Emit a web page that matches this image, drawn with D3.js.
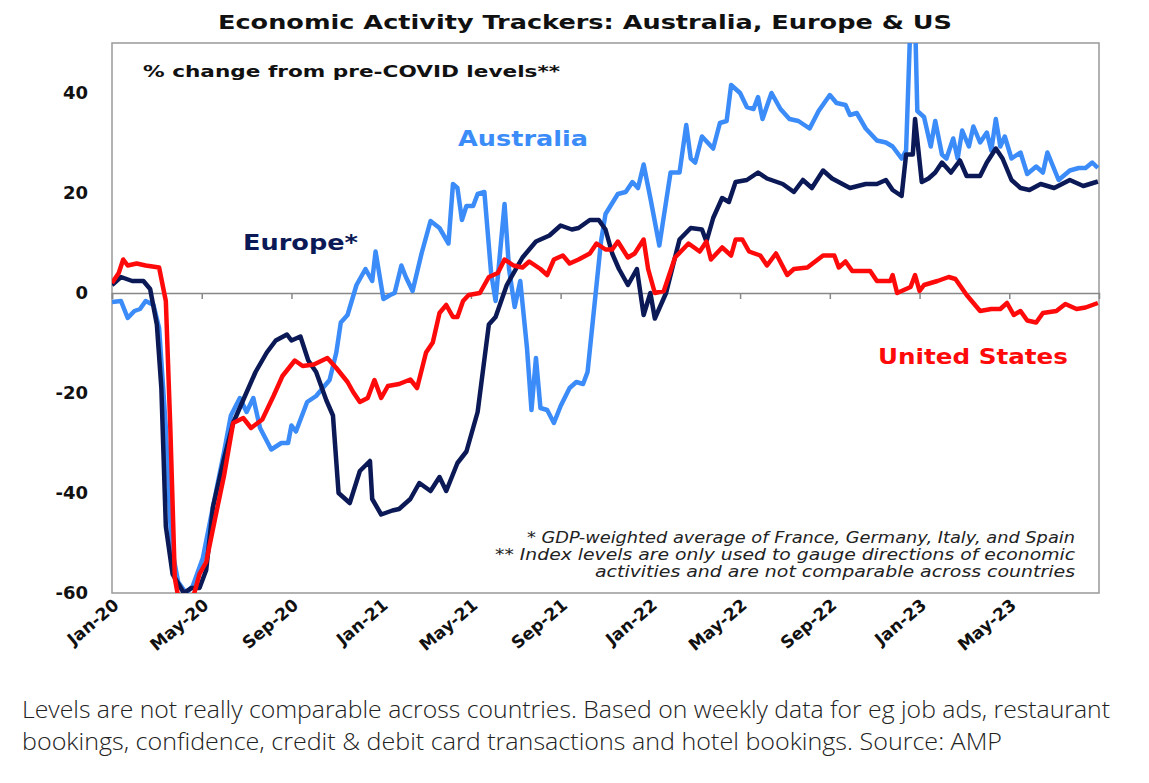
<!DOCTYPE html>
<html><head><meta charset="utf-8">
<script src="https://cdn.jsdelivr.net/npm/d3@7"></script>
<style>body{margin:0;background:#fff}svg{display:block}</style>
</head><body><svg id="c" width="1149" height="783"></svg>
<script>
// month index from Jan-2020 (0) and % change values
const ausM=[0,0.4,0.7,1.0,1.25,1.5,1.85,2.1,2.4,2.65,2.95,3.3,3.6,4.05,4.5,5.0,5.3,5.7,6.0,6.3,6.6,7.1,7.55,7.85,8.0,8.2,8.7,9.1,9.7,10.0,10.2,10.5,10.9,11.3,11.6,11.75,12.1,12.4,12.6,12.9,13.1,13.4,13.8,14.2,14.6,15.0,15.2,15.4,15.6,15.8,16.1,16.3,16.6,16.9,17.1,17.5,17.7,17.95,18.2,18.5,18.7,18.9,19.1,19.4,19.7,20.0,20.4,20.7,21.0,21.2,21.6,21.8,22.0,22.55,22.9,23.2,23.45,23.7,24.0,24.4,24.9,25.3,25.6,25.8,26.0,26.3,26.8,27.1,27.4,27.6,28.0,28.3,28.6,28.8,29.0,29.4,29.8,30.2,30.6,31.1,31.5,32.0,32.3,32.7,32.9,33.2,33.6,34.1,34.5,34.8,35.2,35.4,35.6,35.8,35.9,36.2,36.5,36.7,37.0,37.2,37.5,37.7,37.9,38.2,38.4,38.7,39.0,39.2,39.4,39.6,39.8,40.1,40.5,40.8,41.2,41.5,41.7,42.2,42.7,43.1,43.4,43.7,43.95];
const ausV=[-1.8,-1.6,-5,-3.6,-3.2,-1.6,-2.4,-7,-27,-50.7,-57.8,-60,-58.6,-53,-42.8,-31.7,-24.5,-21,-23.8,-21,-27,-31.3,-30,-30,-26.5,-27.7,-21.8,-20.6,-17.4,-11.9,-5.9,-4.4,1.6,4.8,2.4,8.3,-1.2,-0.4,0,5.5,3.2,0.4,7.9,14.4,13,9.9,21.8,21,14.6,17.4,17.4,19.8,20.2,4,-1.6,17.8,4.8,-2.8,2.4,-11,-23.4,-13,-23,-23.4,-26,-22.6,-19,-17.8,-18.2,-15.8,1.6,10.3,15.8,19.8,20.2,22.2,21,25.7,19,9.5,24.1,24.1,33.6,26.9,26.1,31.3,28.9,34,34.4,41.6,40,37.2,36.8,39.2,34.8,40,36.8,34.8,34.4,32.9,36.4,39.6,38,37.6,35.6,36,32.9,30.5,30.1,29.3,26.9,28.5,55,55,36.4,35.2,29.3,34.4,27.7,26.9,30.9,26.9,32.5,29.3,33.3,30.1,32.1,28.5,34.8,29.3,31.3,26.9,28.1,23.8,25.3,24.1,28.1,22.6,24.5,25,25,26.1,25];
const eurM=[0,0.4,0.9,1.4,1.7,2.0,2.2,2.4,2.7,3.2,3.55,3.9,4.2,4.5,5.0,5.4,5.85,6.4,6.9,7.3,7.8,8.0,8.4,8.75,9.1,9.55,9.85,10.1,10.6,11.05,11.5,11.6,12.0,12.5,12.8,13.3,13.7,14.2,14.6,14.9,15.4,15.8,16.3,16.8,17.1,17.6,18.3,18.9,19.5,20.0,20.5,20.8,21.3,21.7,22.0,22.3,22.6,23.0,23.4,23.7,24.0,24.2,24.7,25.3,25.8,26.3,26.5,26.8,27.2,27.5,27.8,28.3,28.8,29.2,29.9,30.4,30.8,31.2,31.7,32.1,32.9,33.6,34.1,34.5,34.8,35.2,35.4,35.7,35.8,36.1,36.4,36.7,37.0,37.4,37.8,38.1,38.7,39.0,39.4,39.7,40.1,40.5,40.9,41.4,42.0,42.7,43.3,43.95];
const eurV=[1.6,3.2,2.4,2.4,0.8,-6.3,-19,-46.7,-56.2,-60,-59,-59,-55.4,-42.8,-33,-26,-21.4,-15.8,-11.9,-9.5,-8.3,-9.5,-8.7,-13.5,-15.8,-21.4,-24.5,-40,-42,-35.6,-33.6,-41.2,-44.3,-43.5,-43.2,-41.2,-38,-39.6,-36.8,-39.6,-34,-31.7,-23.8,-6.3,-4.8,1.6,7.1,10.3,11.5,13.5,12.7,13,14.6,14.6,12.7,7.9,4.8,1.6,4.8,-4.4,0,-5.1,0,10.7,13,12.7,10.3,15,19,18.2,22.2,22.6,24.1,22.9,21.8,20.2,22.6,21,24.5,22.9,21,21.8,21.8,22.6,20.6,19.4,27.7,27.7,34.8,22.2,22.9,24.1,26.1,24.1,26.5,23.4,23.4,26.1,28.9,26.9,22.6,21,20.6,21.8,21,22.6,21.4,22.3];
const usM=[0,0.3,0.5,0.7,1.1,1.5,2.1,2.4,2.6,2.8,3.0,3.55,3.9,4.2,4.6,5.0,5.4,5.85,6.2,6.7,7.2,7.6,8.15,8.5,9.0,9.6,10.0,10.5,10.75,11.05,11.4,11.7,12.0,12.3,12.8,13.3,13.6,14.0,14.3,14.6,14.9,15.2,15.4,15.65,15.9,16.4,16.8,17.2,17.5,17.9,18.3,18.6,19.1,19.4,19.7,20.1,20.4,20.8,21.3,21.6,22.0,22.3,22.55,23.0,23.3,23.7,23.9,24.2,24.6,25.1,25.7,26.2,26.5,26.7,27.2,27.6,27.8,28.1,28.4,28.9,29.2,29.6,30.1,30.4,31.0,31.7,32.2,32.4,32.7,33.0,33.8,34.1,34.7,34.8,35.0,35.6,35.8,36.0,36.2,36.8,37.3,37.6,38.1,38.7,39.2,39.6,39.9,40.2,40.5,40.8,41.2,41.5,42.1,42.5,43.0,43.4,43.95];
const usV=[2,4,6.7,5.5,5.9,5.5,5.1,-1.6,-27,-57,-62,-62,-56.2,-53.8,-45,-36.4,-26,-25,-27,-25.3,-20.6,-16.6,-13.5,-14.6,-14.3,-13,-15,-17.8,-19.8,-21.8,-21,-17.4,-21,-18.6,-18.2,-17.3,-19,-11.9,-9.9,-4,-2.4,-4.8,-4.8,-1.6,-0.4,0,3.2,4,6.7,5.5,5.1,6.3,4.8,3.6,6.7,7.5,5.9,6.7,7.9,9.9,8.7,8.7,10.3,7.1,7.9,10.7,4.8,0,0.4,7.1,9.9,8.3,10.3,6.7,9.1,7.5,10.7,10.7,8.3,7.5,5.5,7.9,3.6,4.8,5.1,7.5,7.5,5.1,6.3,4.4,4.4,2.4,2.4,3.6,0,1.2,3.6,0.4,1.6,2.4,3.2,2.8,-0.4,-3.6,-3.2,-3.2,-2,-4.4,-3.6,-5.5,-5.9,-4,-3.6,-2.2,-3.2,-2.9,-2];
const tickMonths=[0,4,8,12,16,20,24,28,32,36,40];
const tickLabels=["Jan-20","May-20","Sep-20","Jan-21","May-21","Sep-21","Jan-22","May-22","Sep-22","Jan-23","May-23"];
const yTicks=[40,20,0,-20,-40,-60];

const svg=d3.select("#c");
const L=112,R=1099,T=43,B=593;
const x=d3.scaleLinear().domain([0,44]).range([L,R]);
const y=d3.scaleLinear().domain([-60,50]).range([B,T]);
const F="DejaVu Sans, Verdana, sans-serif";

function txt(s,xx,yy,size,opts={}){
 const t=svg.append("text").attr("x",xx).attr("y",yy).attr("font-family",F)
  .attr("font-weight",opts.w||"bold").attr("font-size",size).attr("fill",opts.c||"#111")
  .attr("text-anchor",opts.a||"start").text(s);
 if(opts.len) t.attr("textLength",opts.len).attr("lengthAdjust","spacingAndGlyphs");
 if(opts.i) t.attr("font-style","italic");
 return t;
}

txt("Economic Activity Trackers: Australia, Europe & US",218,29,19,{len:734});

svg.append("defs").append("clipPath").attr("id","clip").append("rect")
 .attr("x",L).attr("y",T).attr("width",R-L).attr("height",B-T);

svg.append("rect").attr("x",L).attr("y",T).attr("width",R-L).attr("height",B-T)
 .attr("fill","none").attr("stroke","#999").attr("stroke-width",1.5);

const xa=svg.append("g").attr("transform",`translate(0,${y(0)})`)
 .call(d3.axisBottom(x).tickValues(tickMonths).tickSize(6).tickFormat(""));
xa.select(".domain").attr("stroke","#888").attr("stroke-width",1.5);
xa.selectAll(".tick line").attr("stroke","#888").attr("stroke-width",1.5);

const ya=svg.append("g").attr("transform",`translate(${L},0)`)
 .call(d3.axisLeft(y).tickValues(yTicks).tickSize(0).tickPadding(24).tickFormat(d=>String(d)));
ya.select(".domain").remove();
ya.selectAll("text").attr("font-family",F).attr("font-weight","bold").attr("font-size",18).attr("fill","#111");

svg.append("g").selectAll("text").data(tickMonths).join("text")
 .attr("transform",(d)=>`translate(${x(d)+8},${B+14}) rotate(-40)`)
 .attr("text-anchor","end").attr("font-family",F).attr("font-weight","bold").attr("font-size",17).attr("fill","#111")
 .text((d,i)=>tickLabels[i]);

const line=d3.line().x(d=>x(d[0])).y(d=>y(d[1]));
const g=svg.append("g").attr("clip-path","url(#clip)");
[[ausM,ausV,"#3b8cf8"],[eurM,eurV,"#0b1957"],[usM,usV,"#ff0a0a"]].forEach(([m,v,c])=>{
 g.append("path").datum(m.map((d,i)=>[d,v[i]])).attr("d",line)
  .attr("fill","none").attr("stroke",c).attr("stroke-width",4.5).attr("stroke-linejoin","round");
});

txt("% change from pre-COVID levels**",143,77,16,{len:417});
txt("Australia",458,146,21,{c:"#3b8cf8",len:130});
txt("Europe*",243,250,21,{c:"#0b1957",len:115});
txt("United States",878,364,21,{c:"#ff0a0a",len:190});

const notes=["* GDP-weighted average of France, Germany, Italy, and Spain","** Index levels are only used to gauge  directions of economic","activities and are not comparable across countries"];
const nl=[548,580,480];
notes.forEach((d,i)=>txt(d,1075,543+i*17,15,{w:"normal",i:true,a:"end",c:"#222",len:nl[i]}));

const cap=["Levels are not really comparable across countries. Based on weekly data for eg job ads, restaurant","bookings, confidence, credit & debit card transactions and hotel bookings. Source: AMP"];
const cl=[1088,980];
cap.forEach((d,i)=>svg.append("text").attr("x",22).attr("y",718+i*32)
 .attr("font-family","Open Sans, sans-serif").attr("font-weight",300).attr("font-size",23).attr("fill","#222")
 .attr("textLength",cl[i]).attr("lengthAdjust","spacingAndGlyphs").text(d));
</script></body></html>
